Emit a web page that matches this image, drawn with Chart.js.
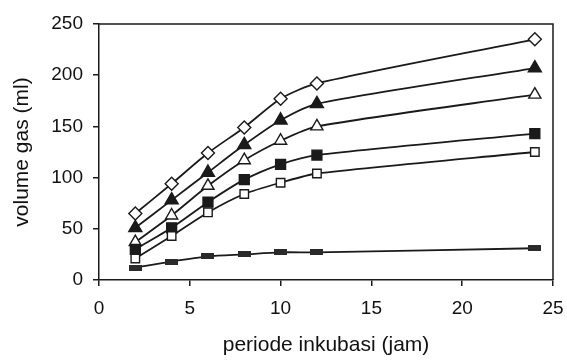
<!DOCTYPE html>
<html>
<head>
<meta charset="utf-8">
<script src="https://cdn.jsdelivr.net/npm/chart.js@4/dist/chart.umd.min.js"></script>
<style>
  html, body { margin: 0; padding: 0; background: #fff; }
  #wrap { width: 567px; height: 363px; }
</style>
</head>
<body>
<div id="wrap"><canvas id="gasChart" width="567" height="363"></canvas></div>
<script>
// incubation hours
const hours = [2, 4, 6, 8, 10, 12, 24];

// gas volume (ml) per treatment
const openDiamond = [65, 94, 124, 149, 177, 192, 235];
const filledTriangle = [51, 78, 105, 132, 156, 172, 207];
const openTriangle = [37, 63, 92, 117, 136, 150, 181];
const filledSquare = [30, 51, 76, 98, 113, 122, 143];
const openSquare = [21, 43, 66, 84, 95, 104, 125];
const dashSeries = [12, 18, 23, 25, 27, 27, 31];

const yTicks = [0, 50, 100, 150, 200, 250];
const xTicks = [0, 5, 10, 15, 20, 25];

const ink = '#1a1a1a';

// small flat bar used as marker for the lowest series
const dash = document.createElement('canvas');
dash.width = 13;
dash.height = 6;
const dctx = dash.getContext('2d');
dctx.fillStyle = '#2a2a2a';
dctx.fillRect(0, 0, 13, 6);

function toPoints(vals) {
    return vals.map((v, i) => ({ x: hours[i], y: v }));
}

function series(vals, style, fill, radius) {
    return {
        data: toPoints(vals),
        borderColor: ink,
        borderWidth: 1.8,
        pointStyle: style,
        pointRadius: radius,
        pointBackgroundColor: fill,
        pointBorderColor: ink,
        pointBorderWidth: 1.4,
        tension: 0.25
    };
}

const frame = {
    id: 'frame',
    afterDraw(chart) {
        const { ctx, chartArea: a } = chart;
        ctx.save();
        ctx.strokeStyle = ink;
        ctx.lineWidth = 1.5;
        ctx.beginPath();
        ctx.moveTo(a.left, a.top);
        ctx.lineTo(a.right, a.top);
        ctx.lineTo(a.right, a.bottom);
        ctx.stroke();
        ctx.restore();
    }
};

const family = '"Liberation Sans", Arial, sans-serif';

new Chart(document.getElementById('gasChart'), {
    type: 'line',
    data: {
        datasets: [
            series(dashSeries, dash, '#2a2a2a', 6),
            series(openSquare, 'rect', '#fff', 6),
            series(filledSquare, 'rect', ink, 7),
            series(openTriangle, 'triangle', '#fff', 7),
            series(filledTriangle, 'triangle', ink, 7.5),
            series(openDiamond, 'rectRot', '#fff', 6.5)
        ]
    },
    options: {
        responsive: false,
        animation: false,
        layout: { padding: { top: 24, right: 0, left: 0, bottom: 0 } },
        plugins: { legend: { display: false }, tooltip: { enabled: false } },
        scales: {
            x: {
                type: 'linear',
                min: 0,
                max: 25,
                afterBuildTicks: (s) => { s.ticks = xTicks.map(v => ({ value: v })); },
                afterFit: (s) => { s.height = 83; s.paddingRight = 14; s.paddingLeft = 0; },
                grid: { drawOnChartArea: false, drawTicks: true, tickLength: 6, color: ink, lineWidth: 1.5 },
                border: { color: ink, width: 1.5 },
                ticks: { color: '#111', font: { family: family, size: 19 }, padding: 11, maxRotation: 0 },
                title: {
                    display: true,
                    text: 'periode inkubasi (jam)',
                    color: '#111',
                    font: { family: family, size: 21 },
                    padding: { top: 0, bottom: 5 }
                }
            },
            y: {
                min: 0,
                max: 250,
                afterBuildTicks: (s) => { s.ticks = yTicks.map(v => ({ value: v })); },
                afterFit: (s) => { s.width = 99; },
                grid: { drawOnChartArea: false, drawTicks: true, tickLength: 6, color: ink, lineWidth: 1.5 },
                border: { color: ink, width: 1.5 },
                ticks: { color: '#111', font: { family: family, size: 19 }, padding: 10 },
                title: {
                    display: true,
                    text: 'volume gas (ml)',
                    color: '#111',
                    font: { family: family, size: 21 },
                    padding: { top: 10, bottom: 0 }
                }
            }
        }
    },
    plugins: [frame]
});
</script>
</body>
</html>
